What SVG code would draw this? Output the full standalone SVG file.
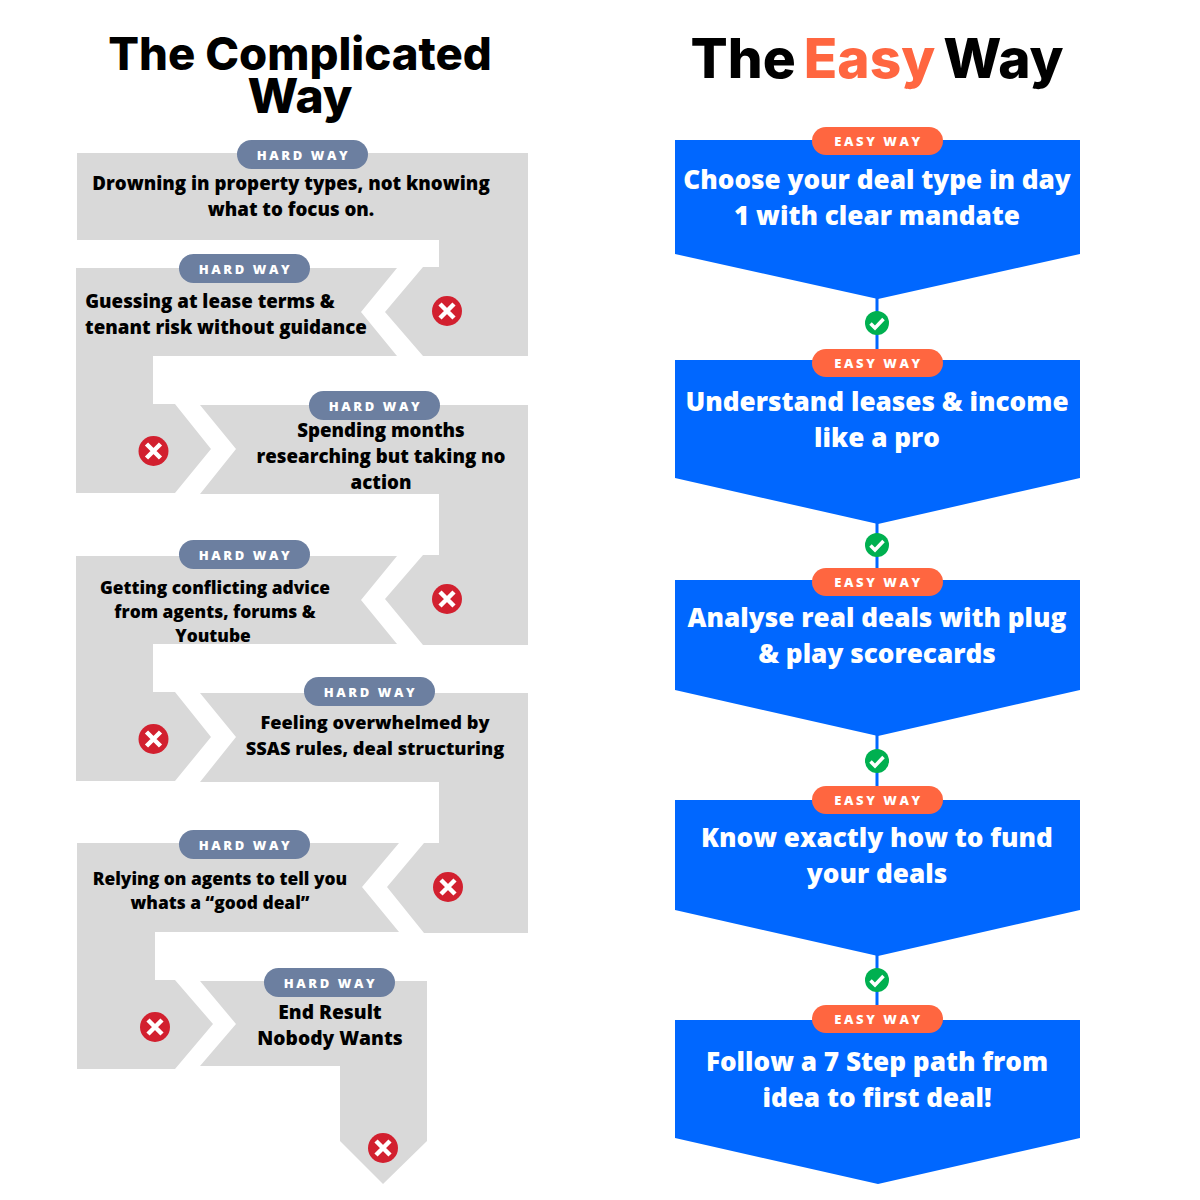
<svg xmlns="http://www.w3.org/2000/svg" width="1200" height="1200" viewBox="0 0 1200 1200">
<style>
text{font-family:"Open Sans","Noto Sans",sans-serif;text-anchor:middle}
.title{font-family:"Inter","Liberation Sans",sans-serif;font-weight:800;fill:#000}
.hard{fill:#d9d9d9}
.easy{fill:#0067ff}
.pillh{fill:#6c7fa0}
.pillo{fill:#ff6640}
.pt{font-size:13px;font-weight:800;fill:#fff;letter-spacing:2.6px}
.lt{font-size:18.700px;font-weight:800;fill:#000}
.ls{font-size:17.350px}
.rt{font-size:26.150px;font-weight:800;fill:#fff}
.link{stroke:#0067ff;stroke-width:3;fill:none}
.xm{stroke:#fff;stroke-width:4.500;fill:none}
.ck{stroke:#fff;stroke-width:3.500;fill:none}
</style>
<defs>
<g id="x"><circle r="15" fill="#d2202f"/><path class="xm" d="M-7-7L7 7M7-7L-7 7"/></g>
<g id="c"><circle r="12" fill="#00b050"/><path class="ck" d="M-6.500 0.500L-2 5L6.500-4"/></g>
</defs>
<g id="title-left"><text class="title" x="300" y="70" font-size="45.500">The Complicated</text><text class="title" x="300" y="113" font-size="48">Way</text></g>
<g id="title-right"><text class="title" x="877" y="78" font-size="55" word-spacing="-4">The <tspan fill="#ff6640">Easy</tspan> Way</text></g>
<g id="connectors">
<path class="link" d="M877 297V350M877 522V570M877 734V788M877 954V1008"/>
</g>
<g id="hard-1"><path class="hard" d="M77 153H528V356H423L385 312L423 267H439V240H77Z"/><rect class="pillh" x="237" y="140" width="131" height="29" rx="14.500"/><text class="pt" x="303.500" y="160">HARD WAY</text><text class="lt" x="291" y="190">Drowning in property types, not knowing</text><text class="lt" x="291" y="216">what to focus on.</text><use href="#x" x="447" y="311"/></g>
<g id="hard-2"><path class="hard" d="M76 268H397L361 312L397 356H153V404H175L211 449L175 493H76Z"/><rect class="pillh" x="179" y="254" width="131" height="29" rx="14.500"/><text class="pt" x="245.500" y="274">HARD WAY</text><text class="lt" x="210" y="308">Guessing at lease terms &amp;</text><text class="lt" x="226" y="334">tenant risk without guidance</text><use href="#x" x="153.500" y="451"/></g>
<g id="hard-3"><path class="hard" d="M200 405H528V645H423L385 599L423 555H439V494H200L236 449Z"/><rect class="pillh" x="309" y="391" width="131" height="29" rx="14.500"/><text class="pt" x="375.500" y="411">HARD WAY</text><text class="lt" x="381" y="437">Spending months</text><text class="lt" x="381" y="463">researching but taking no</text><text class="lt" x="381" y="489">action</text><use href="#x" x="447" y="599"/></g>
<g id="hard-4"><path class="hard" d="M76 556H397L361 600L397 644H153V692H175L211 737L175 781H76Z"/><rect class="pillh" x="179" y="540" width="131" height="29" rx="14.500"/><text class="pt" x="245.500" y="560">HARD WAY</text><text class="lt ls" x="215" y="594">Getting conflicting advice</text><text class="lt ls" x="215" y="618">from agents, forums &amp;</text><text class="lt ls" x="213" y="642">Youtube</text><use href="#x" x="153.500" y="739"/></g>
<g id="hard-5"><path class="hard" d="M200 693H528V933H424L387 887L424 843H439V782H200L236 737Z"/><rect class="pillh" x="304" y="677" width="131" height="29" rx="14.500"/><text class="pt" x="370.500" y="697">HARD WAY</text><text class="lt" x="375" y="729" style="font-size:18.200px">Feeling overwhelmed by</text><text class="lt" x="375" y="755" style="font-size:18.200px">SSAS rules, deal structuring</text><use href="#x" x="448" y="887"/></g>
<g id="hard-6"><path class="hard" d="M77 843H399L362 887L399 932H155V980H175L213 1024L175 1069H77Z"/><rect class="pillh" x="179" y="830" width="131" height="29" rx="14.500"/><text class="pt" x="245.500" y="850">HARD WAY</text><text class="lt ls" x="220" y="885">Relying on agents to tell you</text><text class="lt ls" x="220" y="909">whats a “good deal”</text><use href="#x" x="155" y="1027"/></g>
<g id="hard-7"><path class="hard" d="M200 981H427V1141L383 1184L340 1141V1066H200L236 1024Z"/><rect class="pillh" x="264" y="968" width="131" height="29" rx="14.500"/><text class="pt" x="330.500" y="988">HARD WAY</text><text class="lt" x="330" y="1019" style="font-size:19.200px">End Result</text><text class="lt" x="330" y="1045" style="font-size:19.200px">Nobody Wants</text><use href="#x" x="383" y="1148"/></g>
<g id="easy-1"><path class="easy" d="M675 140H1080V254L878 299L675 254Z"/><rect class="pillo" x="812" y="127" width="131" height="28" rx="14"/><text class="pt" x="878.500" y="146">EASY WAY</text><text class="rt" x="877" y="189">Choose your deal type in day</text><text class="rt" x="877" y="225">1 with clear mandate</text></g>
<use href="#c" x="877" y="323"/>
<g id="easy-2"><path class="easy" d="M675 360H1080V478L878 524L675 478Z"/><rect class="pillo" x="812" y="349" width="131" height="28" rx="14"/><text class="pt" x="878.500" y="368">EASY WAY</text><text class="rt" x="877" y="411">Understand leases &amp; income</text><text class="rt" x="877" y="447">like a pro</text></g>
<use href="#c" x="877" y="545"/>
<g id="easy-3"><path class="easy" d="M675 580H1080V690L878 736L675 690Z"/><rect class="pillo" x="812" y="568" width="131" height="28" rx="14"/><text class="pt" x="878.500" y="587">EASY WAY</text><text class="rt" x="877" y="627">Analyse real deals with plug</text><text class="rt" x="877" y="663">&amp; play scorecards</text></g>
<use href="#c" x="877" y="761"/>
<g id="easy-4"><path class="easy" d="M675 800H1080V910L878 956L675 910Z"/><rect class="pillo" x="812" y="786" width="131" height="28" rx="14"/><text class="pt" x="878.500" y="805">EASY WAY</text><text class="rt" x="877" y="847">Know exactly how to fund</text><text class="rt" x="877" y="883">your deals</text></g>
<use href="#c" x="877" y="980"/>
<g id="easy-5"><path class="easy" d="M675 1020H1080V1138L878 1184L675 1138Z"/><rect class="pillo" x="812" y="1005" width="131" height="28" rx="14"/><text class="pt" x="878.500" y="1024">EASY WAY</text><text class="rt" x="877" y="1071">Follow a 7 Step path from</text><text class="rt" x="877" y="1107">idea to first deal!</text></g>
</svg>
